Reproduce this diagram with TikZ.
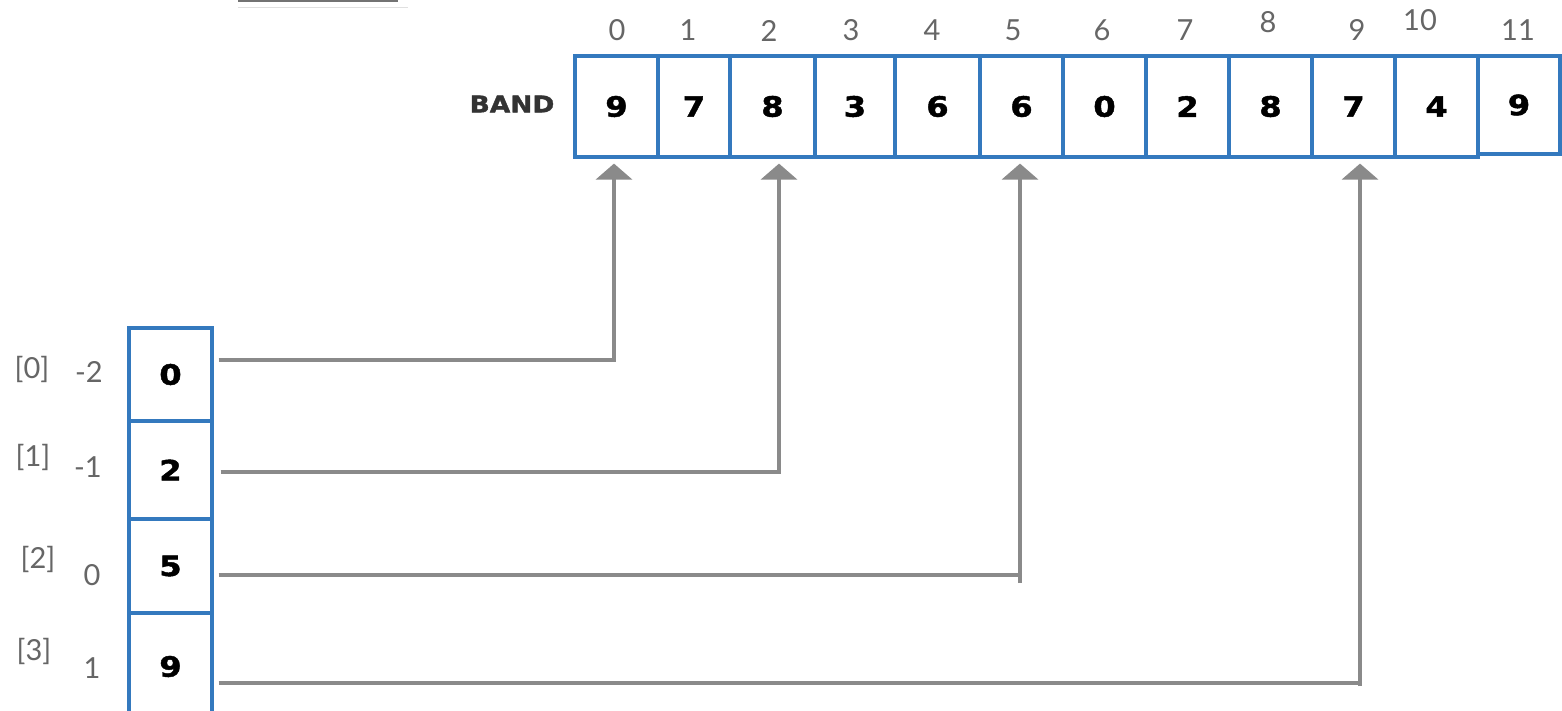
\documentclass[tikz,border=0pt]{standalone}
\usepackage{fontspec}
\setmainfont{Lato}
\newfontfamily\heavyfont[FakeStretch=1.15,FakeBold=1.6]{DejaVu Sans Bold}
\usetikzlibrary{arrows.meta}
\definecolor{boxblue}{HTML}{3479BE}
\definecolor{conngray}{HTML}{8A8A8A}
\definecolor{labgray}{HTML}{666666}
\begin{document}
\begin{tikzpicture}[x=1pt,y=-1pt,
  cell/.style={draw=boxblue, line width=3.2pt, inner sep=0pt,
    font=\heavyfont\fontsize{28}{28}\selectfont, text=black},
  idx/.style={font=\fontsize{29}{29}\selectfont, text=labgray, inner sep=0pt},
  lab/.style={font=\fontsize{29}{29}\selectfont, text=labgray, inner sep=0pt},
  conn/.style={draw=conngray, line width=3.5pt},
  tip/.style={-{Triangle[width=36pt,length=16pt]}, shorten >=5pt}]
\useasboundingbox (0,0) rectangle (1562,711);
\fill[white] (0,0) rectangle (1562,711);

% remnant at top edge
\draw[draw=black!55, line width=2.5pt] (238,0.5) -- (398,0.5);
\draw[draw=black!12, line width=1pt] (238,8) -- (408,8);

% band cells
\foreach \i/\l/\r/\v/\ix/\iy in {0/575/658/9/617/30, 1/658/730/7/688/30, 2/730/815/8/769/31,
  3/815/895/3/851/30, 4/895/980/6/932/30, 5/980/1063/6/1013/30, 6/1063/1146/0/1102/30,
  7/1146/1229/2/1185/30, 8/1229/1312/8/1268/22, 9/1312/1395/7/1357/30, 10/1395/1478/4/1420/20}{
  \pgfmathsetmacro\w{\r-\l}
  \pgfmathsetmacro\c{(\l+\r)/2}
  \node[cell, minimum width=\w pt, minimum height=101pt] (C\i) at (\c,106.5) {\v};
  \node[idx] (N\i) at (\ix,\iy) {\i};
}
\node[cell, minimum width=82pt, minimum height=98pt] (C11) at (1519,105) {9};
\node[idx] (N11) at (1518,30) {11};
\node[font=\heavyfont\fontsize{23}{23}\selectfont, text=black!80, inner sep=0pt] (band) at (512,104) {BAND};

% left column
\node[cell, minimum width=83pt, minimum height=93pt] (L0) at (170.5,374.5) {0};
\node[cell, minimum width=83pt, minimum height=98pt] (L1) at (170.5,470) {2};
\node[cell, minimum width=83pt, minimum height=94pt] (L2) at (170.5,566) {5};
\node[cell, minimum width=83pt, minimum height=107pt] (L3) at (170.5,666.5) {9};

\node[lab] (b0) at (32,369) {[0]};
\node[lab] (b1) at (33,457) {[1]};
\node[lab] (b2) at (38,559) {[2]};
\node[lab] (b3) at (34,651) {[3]};
\node[idx] (o0) at (89,372) {-2};
\node[idx] (o1) at (88,467) {-1};
\node[idx] (o2) at (92,575) {0};
\node[idx] (o3) at (92,668) {1};

% connectors
\draw[conn,tip] ([xshift=5pt,yshift=14.5pt]L0.east) -| ([xshift=-2.5pt]C0.south);
\draw[conn,tip] ([xshift=7pt,yshift=-2pt]L1.east) -| ([xshift=6.5pt]C2.south);

\coordinate (s2) at ([xshift=5pt,yshift=-9pt]L2.east);
\coordinate (k2) at ([xshift=-1.5pt]C5.south |- s2);
\draw[conn] (s2) -- (k2);
\draw[conn,tip] ([yshift=-8pt]k2) -- ([xshift=-1.5pt]C5.south);

\coordinate (s3) at ([xshift=5pt,yshift=-16.5pt]L3.east);
\coordinate (k3) at ([xshift=6.5pt]C9.south |- s3);
\draw[conn] (s3) -- (k3);
\draw[conn,tip] ([yshift=-3pt]k3) -- ([xshift=6.5pt]C9.south);
\end{tikzpicture}
\end{document}
